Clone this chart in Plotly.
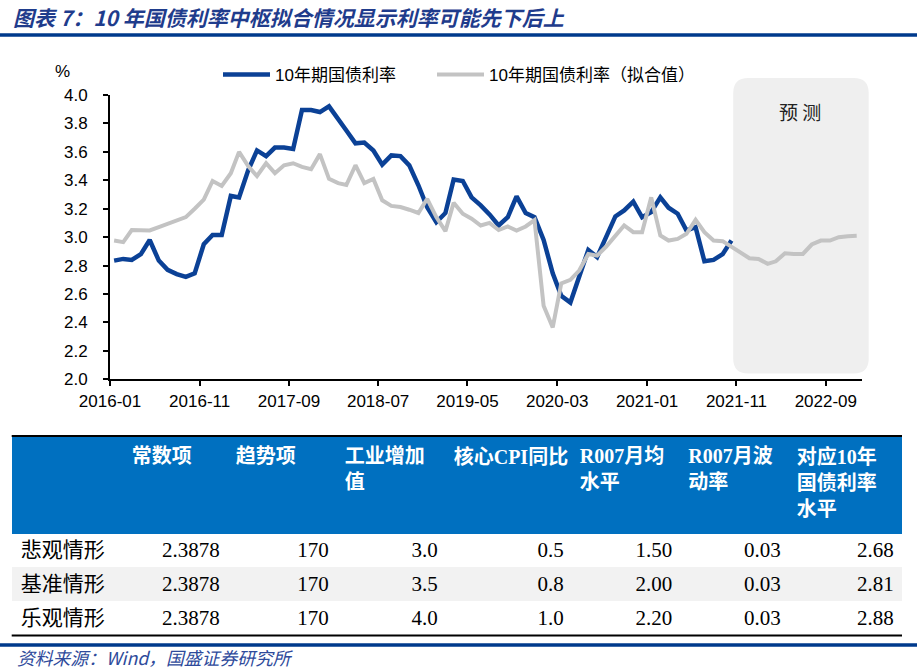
import pandas as pd
import plotly.graph_objects as go

W, H = 917, 669

# ---------------- data ----------------
start_month = "2016-01"
# 10年期国债利率 (actual, monthly from 2016-01 to 2021-10)
actual = [2.835, 2.847, 2.84, 2.88, 2.98, 2.835, 2.77, 2.74, 2.72, 2.745,
          2.95, 3.015, 3.015, 3.29, 3.28, 3.47, 3.61, 3.57, 3.63, 3.63,
          3.62, 3.894, 3.894, 3.88, 3.92, 3.835, 3.75, 3.66, 3.665, 3.61,
          3.51, 3.575, 3.57, 3.505, 3.365, 3.21, 3.105, 3.17, 3.405, 3.395,
          3.28, 3.224, 3.16, 3.082, 3.14, 3.287, 3.17, 3.14, 2.98, 2.746,
          2.588, 2.54, 2.718, 2.91, 2.86, 3.0, 3.146, 3.188, 3.25, 3.14,
          3.176, 3.28, 3.207, 3.165, 3.047, 3.07, 2.83, 2.84, 2.88, 2.976]
# 10年期国债利率（拟合值）, monthly from 2016-01 to 2022-12
fitted = [2.976, 2.965, 3.05, 3.047, 3.047, 3.07, 3.094, 3.118, 3.141, 3.2,
          3.264, 3.395, 3.36, 3.45, 3.6, 3.5, 3.43, 3.52, 3.45, 3.506,
          3.52, 3.494, 3.478, 3.584, 3.41, 3.38, 3.367, 3.506, 3.38, 3.41,
          3.259, 3.22, 3.212, 3.193, 3.17, 3.27, 3.141, 3.042, 3.242, 3.165,
          3.13, 3.082, 3.1, 3.05, 3.075, 3.047, 3.075, 3.12, 2.518, 2.365,
          2.675, 2.7, 2.765, 2.882, 2.87, 2.934, 3.012, 3.082, 3.035, 3.035,
          3.28, 3.012, 2.976, 2.988, 3.024, 3.122, 3.035, 2.976, 2.972, 2.934,
          2.894, 2.852, 2.847, 2.812, 2.83, 2.887, 2.882, 2.882, 2.948, 2.976,
          2.976, 3.0, 3.007, 3.01]
series_names = ["10年期国债利率", "10年期国债利率（拟合值）"]
forecast_label = "预 测"
forecast_start = "2021-10-21"

# table
header_labels = ["", "常数项", "趋势项", "工业增加<br>值", "核心CPI同比",
                 "R007月均<br>水平", "R007月波<br>动率", "对应10年<br>国债利率<br>水平"]
scenarios = ["悲观情形", "基准情形", "乐观情形"]
const_term = ["2.3878", "2.3878", "2.3878"]
trend_term = ["170", "170", "170"]
industrial = ["3.0", "3.5", "4.0"]
core_cpi = ["0.5", "0.8", "1.0"]
r007_mean = ["1.50", "2.00", "2.20"]
r007_vol = ["0.03", "0.03", "0.03"]
yield_level = ["2.68", "2.81", "2.88"]

title_text = "图表 7：10 年国债利率中枢拟合情况显示利率可能先下后上"
source_text = "资料来源：Wind，国盛证券研究所"

# ---------------- layout geometry ----------------
months = pd.date_range(start_month, periods=len(fitted), freq="MS")
x_dates = months + pd.Timedelta(days=14)

x_range = ["2016-01-01", "2023-01-01"]
y_range = [2.0, 4.0]
xdom = [110 / W, 861.7 / W]
ydom = [1 - 379.3 / H, 1 - 95 / H]


def xp(px):
    return px / W


def yp(py):
    return 1 - py / H


def date_to_paper(d):
    t0, t1 = pd.Timestamp(x_range[0]), pd.Timestamp(x_range[1])
    return xdom[0] + (pd.Timestamp(d) - t0) / (t1 - t0) * (xdom[1] - xdom[0])


def val_to_paper(v):
    return ydom[0] + (v - y_range[0]) / (y_range[1] - y_range[0]) * (ydom[1] - ydom[0])


SANS = "Liberation Sans, Arial, Noto Sans CJK SC, sans-serif"
SERIF = "Liberation Serif, Times New Roman, Noto Sans CJK SC, serif"
CJK = "Noto Sans CJK SC, sans-serif"

fig = go.Figure()

fig.add_trace(go.Scatter(
    x=x_dates[:len(actual)], y=actual, mode="lines", name=series_names[0],
    line=dict(color="#0B4196", width=4.5), legend="legend",
))
fig.add_trace(go.Scatter(
    x=x_dates, y=fitted, mode="lines", name=series_names[1],
    line=dict(color="#C3C3C3", width=4), legend="legend2",
))

# table
fig.add_trace(go.Table(
    domain=dict(x=[12.7 / W, 902 / W], y=[yp(638), yp(437)]),
    columnwidth=[111, 104, 109, 109, 126, 108.5, 108.5, 113],
    header=dict(
        values=["<b>%s</b>" % h for h in header_labels],
        fill_color="#0070C0",
        line=dict(color="#0070C0", width=1),
        align="left",
        height=96,
        font=dict(family=SERIF, size=20, color="white"),
    ),
    cells=dict(
        values=[scenarios, const_term, trend_term, industrial, core_cpi,
                r007_mean, r007_vol, yield_level],
        fill_color=[["white", "#F2F2F2", "white"]] * 8,
        line=dict(color=[["white", "#F2F2F2", "white"]] * 8, width=1),
        align=["left"] + ["right"] * 7,
        height=34,
        font=dict(family=SERIF, size=21, color="black"),
    ),
))

# forecast box (rounded)
l = date_to_paper(forecast_start)
r = xdom[1] + 7 / W
t = val_to_paper(4.12)
b = val_to_paper(2.04)
rx, ry = 15 / W, 15 / H
path = (f"M{l+rx},{b} L{r-rx},{b} Q{r},{b} {r},{b+ry} L{r},{t-ry} Q{r},{t} {r-rx},{t} "
        f"L{l+rx},{t} Q{l},{t} {l},{t-ry} L{l},{b+ry} Q{l},{b} {l+rx},{b} Z")

shapes = [
    dict(type="path", path=path, xref="paper", yref="paper", layer="below",
         fillcolor="#EFEFEF", line=dict(width=0)),
    # title rule
    dict(type="line", xref="paper", yref="paper", x0=0, x1=1, y0=yp(35), y1=yp(35),
         line=dict(color="#003A8C", width=3.5)),
    # table borders
    dict(type="line", xref="paper", yref="paper", x0=xp(11.7), x1=xp(902), y0=yp(436), y1=yp(436),
         line=dict(color="black", width=2)),
    dict(type="line", xref="paper", yref="paper", x0=xp(11.7), x1=xp(902), y0=yp(635.5), y1=yp(635.5),
         line=dict(color="black", width=2)),
    # bottom rule
    dict(type="line", xref="paper", yref="paper", x0=0, x1=1, y0=yp(645), y1=yp(645),
         line=dict(color="#003A8C", width=3.5)),
]

annotations = [
    dict(text="<b><i>%s</i></b>" % title_text, xref="paper", yref="paper",
         x=xp(11), y=yp(17), xanchor="left", yanchor="middle", showarrow=False,
         font=dict(family=CJK, size=21, color="#1F3C8C")),
    dict(text="%", xref="paper", yref="paper", x=xp(62.7), y=yp(71.7),
         xanchor="center", yanchor="middle", showarrow=False,
         font=dict(family=SANS, size=17, color="black")),
    dict(text=forecast_label, xref="paper", yref="paper", x=xp(800), y=yp(111.7),
         xanchor="center", yanchor="middle", showarrow=False,
         font=dict(family=CJK, size=19, color="#222222")),
    dict(text="<i>%s</i>" % source_text, xref="paper", yref="paper",
         x=xp(15), y=yp(657), xanchor="left", yanchor="middle", showarrow=False,
         font=dict(family=CJK, size=17.8, color="#2E4A9B")),
]

legend_common = dict(
    orientation="h", xanchor="left", y=yp(75), yanchor="middle",
    font=dict(family=SANS, size=17, color="black"),
    itemwidth=47, bgcolor="rgba(0,0,0,0)", borderwidth=0,
)

fig.update_layout(
    width=W, height=H,
    margin=dict(l=0, r=0, t=0, b=0, autoexpand=False),
    paper_bgcolor="white",
    plot_bgcolor="rgba(0,0,0,0)",
    shapes=shapes,
    annotations=annotations,
    showlegend=True,
    legend=dict(x=xp(218), **legend_common),
    legend2=dict(x=xp(432), **legend_common),
    xaxis=dict(
        domain=xdom, type="date", range=x_range,
        tick0="2016-01-01", dtick="M10", tickformat="%Y-%m",
        showline=True, linecolor="black", linewidth=1.5,
        ticks="outside", ticklen=5, tickwidth=1.5, tickcolor="black",
        showgrid=False, zeroline=False,
        tickfont=dict(family=SANS, size=17, color="black"),
        ticklabelstandoff=1,
    ),
    yaxis=dict(
        domain=ydom, range=y_range, dtick=0.2, tick0=2.0, tickformat=".1f",
        showline=True, linecolor="black", linewidth=2,
        ticks="outside", ticklen=5, tickwidth=1.5, tickcolor="black",
        showgrid=False, zeroline=False,
        tickfont=dict(family=SANS, size=17, color="black"),
        ticklabelstandoff=12,
    ),
)

fig.write_html("out.html", config={"displayModeBar": False},
               post_script="document.body.style.margin='0';document.body.style.overflow='hidden';")
